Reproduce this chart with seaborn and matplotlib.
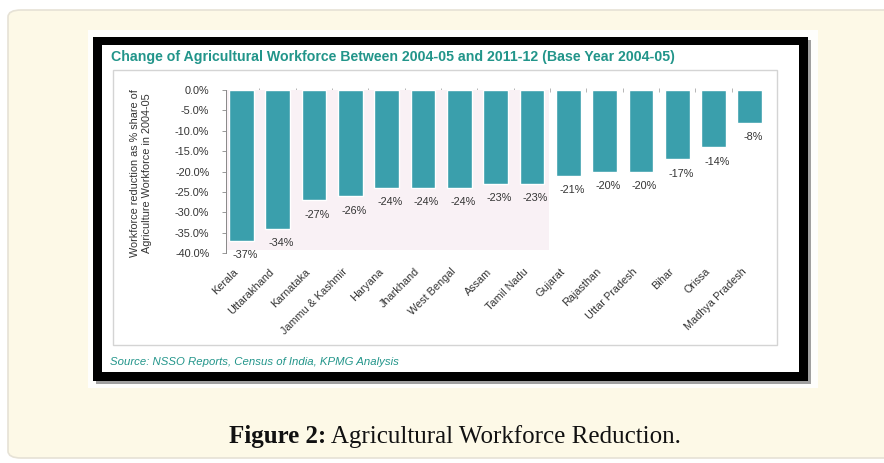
import matplotlib
matplotlib.use("Agg")
import matplotlib.pyplot as plt
from matplotlib.patches import FancyBboxPatch, Rectangle
from matplotlib.transforms import ScaledTranslation
import seaborn as sns
import pandas as pd
import numpy as np

states = ["Kerala", "Uttarakhand", "Karnataka", "Jammu & Kashmir", "Haryana",
          "Jharkhand", "West Bengal", "Assam", "Tamil Nadu", "Gujarat",
          "Rajasthan", "Uttar Pradesh", "Bihar", "Orissa", "Madhya Pradesh"]
change = [-37, -34, -27, -26, -24, -24, -24, -23, -23, -21, -20, -20, -17, -14, -8]
yticks = [0, -5, -10, -15, -20, -25, -30, -35, -40]
ytick_labels = ["0.0%", "-5.0%", "-10.0%", "-15.0%", "-20.0%", "-25.0%",
                "-30.0%", "-35.0%", "-40.0%"]

df = pd.DataFrame({"state": states, "change": change})

sns.set_theme(style="white")
plt.rcParams["font.family"] = ["Liberation Sans", "DejaVu Sans"]

W, H = 884, 463
fig = plt.figure(figsize=(W / 100, H / 100), dpi=100)
fig.patch.set_facecolor("white")

def px(x0, y0, x1, y1):
    return (x0 / W, 1 - y1 / H, (x1 - x0) / W, (y1 - y0) / H)

# outer cream panel
l, b, w, h = px(8, 10, 900, 458)
fig.patches.append(FancyBboxPatch((l, b), w, h, boxstyle="round,pad=0,rounding_size=0.015",
                                  transform=fig.transFigure, facecolor="#fdf9e7",
                                  edgecolor="#e6e2d6", linewidth=1.2, zorder=0))
# white margin of the embedded image
l, b, w, h = px(88, 30, 818, 388)
fig.patches.append(Rectangle((l, b), w, h, transform=fig.transFigure,
                             facecolor="#fefefc", edgecolor="none", zorder=1))
# shadow + black frame
l, b, w, h = px(96, 40, 811, 384)
fig.patches.append(Rectangle((l, b), w, h, transform=fig.transFigure,
                             facecolor="#a0a0a0", edgecolor="none", zorder=1))
l, b, w, h = px(93, 37, 808, 381)
fig.patches.append(Rectangle((l, b), w, h, transform=fig.transFigure,
                             facecolor="black", edgecolor="none", zorder=2))
l, b, w, h = px(102, 45, 799, 372)
fig.patches.append(Rectangle((l, b), w, h, transform=fig.transFigure,
                             facecolor="white", edgecolor="none", zorder=3))
# grey plot box
l, b, w, h = px(113, 70, 777, 345)
fig.patches.append(Rectangle((l, b), w, h, transform=fig.transFigure,
                             facecolor="white", edgecolor="#d4d4d4", linewidth=1.0, zorder=4))

teal = "#22958a"
fig.text(111 / W, 1 - 57 / H, "Change of Agricultural Workforce Between 2004-05 and 2011-12 (Base Year 2004-05)",
         color=teal, fontsize=10.2, fontweight="bold", va="center", ha="left", zorder=10)
fig.text(110 / W, 1 - 362 / H, "Source: NSSO Reports, Census of India, KPMG Analysis",
         color=teal, fontsize=8.2, style="italic", va="center", ha="left", zorder=10)

ax = fig.add_axes(px(226, 90, 768, 253))
ax.set_zorder(5)
ax.patch.set_alpha(0)
sns.barplot(data=df, x="state", y="change", color="#3a9fac", width=0.68,
            saturation=1, ax=ax, zorder=3)
ax.add_patch(Rectangle((-0.45, -39.3), 8.93, 39.3, facecolor="#f9f1f5",
                       edgecolor="none", zorder=1))
ax.set_ylim(-40, 0)
ax.set_xlim(-0.42, 14.5)
ax.set_yticks(yticks)
ax.set_yticklabels(ytick_labels, fontsize=7.8, color="#333333")
ax.tick_params(axis="y", length=3, width=0.6, color="#888888", left=True, pad=9)
ax.tick_params(axis="x", which="major", length=0, pad=0)
ax.set_xticks(np.arange(0.5, len(states) - 1, 1), minor=True)
ax.tick_params(axis="x", which="minor", top=True, bottom=False, length=3,
               width=0.6, color="#aaaaaa", direction="inout")
for s in ["top", "right", "bottom"]:
    ax.spines[s].set_visible(False)
ax.spines["left"].set_color("#888888")
ax.spines["left"].set_linewidth(0.7)
ax.set_xlabel("")
ax.set_ylabel("")
ax.set_xticks(range(len(states)))
ax.set_xticklabels(states, rotation=45, ha="right", va="center", rotation_mode="anchor",
                   fontsize=7.8, color="#333333")
shift = ScaledTranslation(-0.05, -0.17, fig.dpi_scale_trans)
for lab in ax.get_xticklabels():
    lab.set_transform(lab.get_transform() + shift)
for i, v in enumerate(change):
    ax.text(i + 0.1, v - 3.6, f"{v}%", ha="center", va="center",
            fontsize=7.8, color="#333333", zorder=6)

fig.text(141 / W, 1 - 173 / H,
         "Workforce reduction as % share of\nAgriculture Workforce in 2004-05",
         rotation=90, ha="center", va="center", fontsize=7.8, color="#333333",
         linespacing=1.25, zorder=10)

# caption
fig.canvas.draw()
r = fig.canvas.get_renderer()
serif = ["Liberation Serif", "DejaVu Serif"]
t1 = fig.text(0, 1 - 437 / H, "Figure 2:", fontsize=18, fontweight="bold",
              family=serif, va="center", ha="left", color="#111111", zorder=10)
t2 = fig.text(0, 1 - 437 / H, " Agricultural Workforce Reduction.", fontsize=18,
              family=serif, va="center", ha="left", color="#111111", zorder=10)
w1 = t1.get_window_extent(r).width
w2 = t2.get_window_extent(r).width
x0 = 455 - (w1 + w2) / 2
t1.set_x(x0 / W)
t2.set_x((x0 + w1) / W)

fig.savefig("out.png", dpi=100)
